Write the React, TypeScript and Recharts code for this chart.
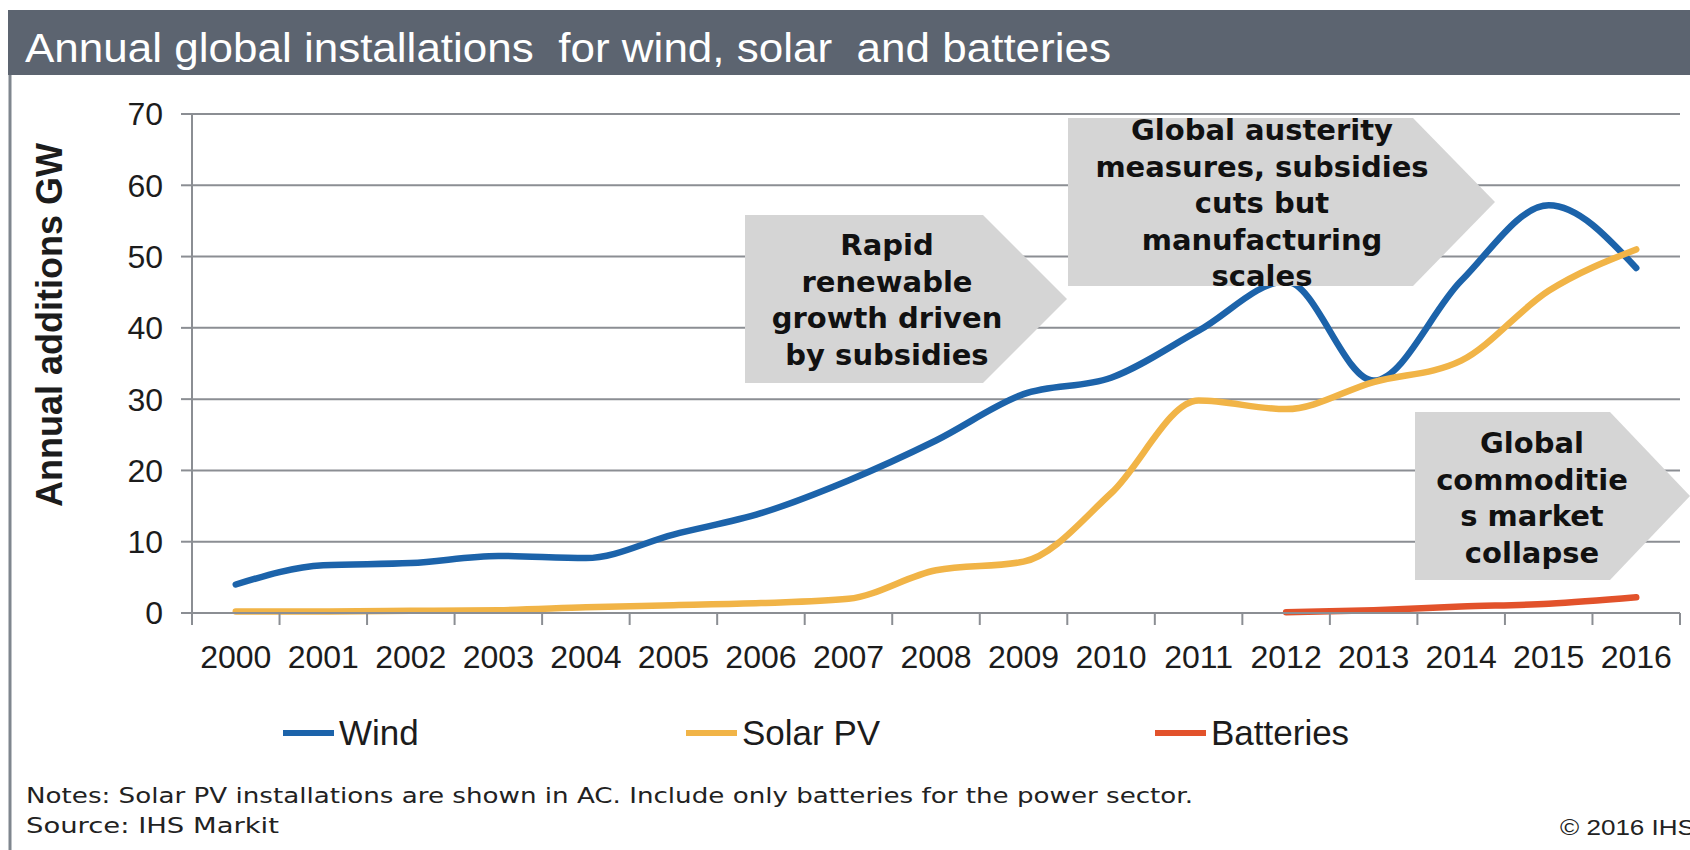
import { LineChart, Line, XAxis, YAxis, CartesianGrid } from 'recharts'

const YEARS = ['2000', '2001', '2002', '2003', '2004', '2005', '2006', '2007', '2008', '2009', '2010', '2011', '2012', '2013', '2014', '2015', '2016']
const WIND = [4, 6.7, 7, 8, 7.7, 11, 14, 18.6, 24.2, 30.7, 33, 39.6, 46.5, 32.6, 46.6, 57.2, 48.4]
const SOLAR = [0.2, 0.2, 0.3, 0.4, 0.8, 1.1, 1.4, 2, 6, 7.2, 16.8, 29.8, 28.6, 32.4, 35.4, 45.2, 51]
const BATTERIES = [null, null, null, null, null, null, null, null, null, null, null, null, 0.1, 0.4, 0.9, 1.3, 2.2]
const Y_TICKS = [0, 10, 20, 30, 40, 50, 60, 70]

const TITLE = 'Annual global installations  for wind, solar  and batteries'
const Y_LABEL = 'Annual additions GW'
const NOTES = 'Notes: Solar PV installations are shown in AC. Include only batteries for the power sector.'
const SOURCE = 'Source: IHS Markit'
const COPYRIGHT = '© 2016 IHS'

const SERIES = [
  { key: 'wind', name: 'Wind', color: '#1c63aa' },
  { key: 'solar', name: 'Solar PV', color: '#f1b447' },
  { key: 'batteries', name: 'Batteries', color: '#e2522b' }
]

// callout arrows laid over the plot
const CALLOUTS = [
  { lines: ['Rapid', 'renewable', 'growth driven', 'by subsidies'], left: 745, right: 983, tip: 1067, top: 215, bottom: 383, cx: 887, firstBaseline: 255 },
  { lines: ['Global austerity', 'measures, subsidies', 'cuts but', 'manufacturing', 'scales'], left: 1068, right: 1413, tip: 1495, top: 118, bottom: 286, cx: 1262, firstBaseline: 140 },
  { lines: ['Global', 'commoditie', 's market', 'collapse'], left: 1415, right: 1610, tip: 1690, top: 412, bottom: 580, cx: 1532, firstBaseline: 453 }
]

const data = YEARS.map((year, i) => ({
  year,
  wind: WIND[i],
  solar: SOLAR[i],
  batteries: BATTERIES[i]
}))

const W = 1690
const CHART_H = 680
const MARGIN = { top: 114, right: 10, left: 112, bottom: 17 }
const X_AXIS_H = 50
const PLOT_BOTTOM = CHART_H - MARGIN.bottom - X_AXIS_H
const AXIS = '#8b8e93'
const INK = '#1c1c1c'
const ARIAL = '"Liberation Sans", Arial, sans-serif'
const VERDANA = '"DejaVu Sans", Verdana, sans-serif'

function YearTick(props: any) {
  const { x, payload, index } = props
  const half = payload?.offset > 0 ? payload.offset : (W - MARGIN.left - 80 - MARGIN.right) / YEARS.length / 2
  return (
    <g>
      <line x1={x - half} x2={x - half} y1={PLOT_BOTTOM} y2={PLOT_BOTTOM + 12} stroke={AXIS} strokeWidth={2} />
      {index === YEARS.length - 1 && (
        <line x1={x + half} x2={x + half} y1={PLOT_BOTTOM} y2={PLOT_BOTTOM + 12} stroke={AXIS} strokeWidth={2} />
      )}
      <text x={x} y={PLOT_BOTTOM + 55} textAnchor="middle" fontSize={32} fill={INK} fontFamily={ARIAL}>
        {payload.value}
      </text>
    </g>
  )
}

export default function App() {
  return (
    <div style={{ position: 'absolute', left: 0, top: 0, width: W, height: 850, background: '#fff', overflow: 'hidden' }}>
      <div style={{ position: 'absolute', left: 0, top: 0 }}>
        <LineChart width={W} height={CHART_H} data={data} margin={MARGIN}>
          <CartesianGrid vertical={false} stroke={AXIS} strokeWidth={2} />
          <XAxis
            dataKey="year"
            scale="band"
            height={X_AXIS_H}
            interval={0}
            tickLine={false}
            axisLine={{ stroke: AXIS, strokeWidth: 2 }}
            tick={<YearTick />}
          />
          <YAxis
            width={80}
            domain={[0, 70]}
            ticks={Y_TICKS}
            interval={0}
            tickSize={11}
            tickMargin={18}
            tickLine={{ stroke: AXIS, strokeWidth: 2 }}
            axisLine={{ stroke: AXIS, strokeWidth: 2 }}
            tick={{ fontSize: 32, fill: INK, fontFamily: ARIAL }}
          />
          {SERIES.map((s) => (
            <Line
              key={s.key}
              dataKey={s.key}
              name={s.name}
              type="monotone"
              stroke={s.color}
              strokeWidth={6.5}
              strokeLinecap="round"
              dot={false}
              activeDot={false}
              isAnimationActive={false}
            />
          ))}
        </LineChart>
      </div>

      <svg width={W} height={850} style={{ position: 'absolute', left: 0, top: 0, pointerEvents: 'none' }}>
        {/* frame and title bar */}
        <line x1={10} x2={10} y1={70} y2={850} stroke="#7f868e" strokeWidth={3} />
        <rect x={8} y={10} width={W - 8} height={65} fill="#5c6470" />
        <text x={25} y={62} fontSize={40} fill="#fff" fontFamily={ARIAL} textLength={1086} lengthAdjust="spacingAndGlyphs" style={{ whiteSpace: 'pre' }}>
          {TITLE}
        </text>

        <text transform="translate(62,325) rotate(-90)" textAnchor="middle" fontSize={36} fontWeight="bold" fill={INK} fontFamily={ARIAL}>
          {Y_LABEL}
        </text>

        {CALLOUTS.map((c, i) => (
          <g key={i}>
            <polygon
              points={`${c.left},${c.top} ${c.right},${c.top} ${c.tip},${(c.top + c.bottom) / 2} ${c.right},${c.bottom} ${c.left},${c.bottom}`}
              fill="#d5d5d5"
            />
            {c.lines.map((ln, j) => (
              <text key={j} x={c.cx} y={c.firstBaseline + j * 36.6} textAnchor="middle" fontSize={29} fontWeight="bold" fill="#111" fontFamily={VERDANA}>
                {ln}
              </text>
            ))}
          </g>
        ))}

        {/* legend */}
        {SERIES.map((s, i) => {
          const x0 = [283, 686, 1155][i]
          return (
            <g key={s.key}>
              <line x1={x0} x2={x0 + 51} y1={733} y2={733} stroke={s.color} strokeWidth={6} />
              <text x={x0 + 56} y={745} fontSize={35} fill={INK} fontFamily={ARIAL}>
                {s.name}
              </text>
            </g>
          )
        })}

        <text x={26} y={803} fontSize={22} fill="#222" fontFamily={VERDANA} textLength={1167} lengthAdjust="spacingAndGlyphs">
          {NOTES}
        </text>
        <text x={26} y={833} fontSize={22} fill="#222" fontFamily={VERDANA} textLength={253} lengthAdjust="spacingAndGlyphs">
          {SOURCE}
        </text>
        <text x={1560} y={835} fontSize={22} fill="#222" fontFamily={ARIAL} textLength={135} lengthAdjust="spacingAndGlyphs">
          {COPYRIGHT}
        </text>
      </svg>
    </div>
  )
}
